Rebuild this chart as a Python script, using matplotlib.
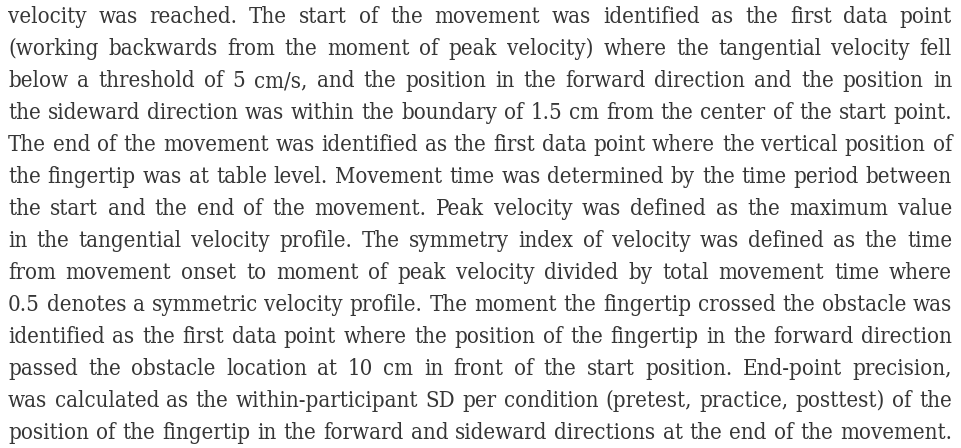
import matplotlib
matplotlib.use("Agg")
from matplotlib import pyplot as plt
from matplotlib import font_manager

# Paragraph text, one entry per justified line
lines = [
    "velocity was reached. The start of the movement was identified as the first data point",
    "(working backwards from the moment of peak velocity) where the tangential velocity fell",
    "below a threshold of 5 cm/s, and the position in the forward direction and the position in",
    "the sideward direction was within the boundary of 1.5 cm from the center of the start point.",
    "The end of the movement was identified as the first data point where the vertical position of",
    "the fingertip was at table level. Movement time was determined by the time period between",
    "the start and the end of the movement. Peak velocity was defined as the maximum value",
    "in the tangential velocity profile. The symmetry index of velocity was defined as the time",
    "from movement onset to moment of peak velocity divided by total movement time where",
    "0.5 denotes a symmetric velocity profile. The moment the fingertip crossed the obstacle was",
    "identified as the first data point where the position of the fingertip in the forward direction",
    "passed the obstacle location at 10 cm in front of the start position. End-point precision,",
    "was calculated as the within-participant SD per condition (pretest, practice, posttest) of the",
    "position of the fingertip in the forward and sideward directions at the end of the movement.",
]

W, H = 961, 448
left, right = 8, 952
first_baseline, pitch = 23, 32.0
color = "#363636"

# use a condensed slab-like serif if the system has one
family = "DejaVu Serif"
stretch = "normal"
cond = font_manager.findfont(font_manager.FontProperties(family="DejaVu Serif", stretch="condensed"))
if "Condensed" in cond:
    stretch = "condensed"

fig = plt.figure(figsize=(W / 100, H / 100), dpi=100)
ax = fig.add_axes([0, 0, 1, 1])
ax.set_xlim(0, W)
ax.set_ylim(H, 0)
ax.axis("off")
renderer = fig.canvas.get_renderer()


def width(s, size):
    t = ax.text(0, 0, s, fontsize=size, family=family, fontstretch=stretch)
    w = t.get_window_extent(renderer).width
    t.remove()
    return w


# pick a font size so the tightest line just fits the column
base = 16
natural = [width(l, base) for l in lines]
size = base * (right - left) / max(natural) * 0.995

for i, line in enumerate(lines):
    words = line.split(" ")
    ws = [width(w, size) for w in words]
    gap = (right - left - sum(ws)) / (len(words) - 1)
    x = left
    y = first_baseline + i * pitch
    for w, wd in zip(words, ws):
        ax.text(x, y, w, fontsize=size, family=family, fontstretch=stretch,
                color=color, va="baseline", ha="left")
        x += wd + gap

fig.savefig("out.png", dpi=100, facecolor="white")
